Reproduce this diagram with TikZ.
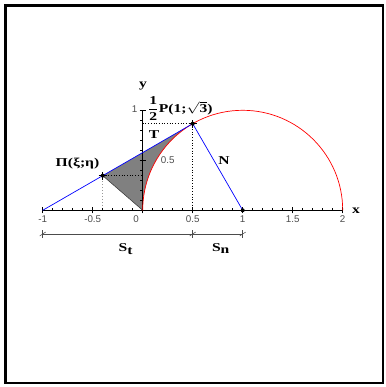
\documentclass[tikz,border=0pt]{standalone}
\usepackage{fontspec}
\setmainfont{Liberation Serif}
\newfontfamily\ticksans{Liberation Sans}
\newcommand{\widetxt}[1]{\scalebox{1.3}[1]{#1}}
\begin{document}
\begin{tikzpicture}[x=100pt,y=100pt,
  lbl/.style={font=\fontsize{12}{14}\selectfont\bfseries, inner sep=0pt},
  ticklbl/.style={font=\ticksans\fontsize{9.8}{11}\selectfont, text=black!70, inner sep=0pt},
  dotpt/.style={circle, fill=black, inner sep=0pt, minimum size=4pt},
  axisline/.style={black, line width=0.8pt},
  curveline/.style={red, line width=0.7pt},
  blueline/.style={blue, line width=0.7pt},
  dotline/.style={black, line width=0.7pt, dotted},
  greydot/.style={black!40, line width=0.9pt, dotted},
  dimline/.style={black!70, line width=0.8pt}]
\useasboundingbox (-1.427,-1.767) rectangle (2.423,2.103);
\draw[line width=2.7pt] (-1.372,-1.727) rectangle (2.403,2.05);

% named points
\coordinate (O) at (0,0);
\coordinate (A) at (-1,0);
\coordinate (X2) at (2,0);
\coordinate (Y1) at (0,1);
\coordinate (P) at (0.5,0.8660);
\coordinate (Q) at (1,0);
\coordinate (Pi) at (-0.4,0.34641);
\coordinate (PiY) at (0,0.34641);
\coordinate (PiX) at (-0.4,0);
\coordinate (PY) at (0,0.8660);
\coordinate (PX) at (0.5,0);
\coordinate (D1) at (-1,-0.237);
\coordinate (D2) at (0.5,-0.237);
\coordinate (D3) at (1,-0.237);

% shaded region
\fill[black!50] (Pi) -- (P) arc[start angle=120, end angle=180, radius=1] -- cycle;
\draw[black!80, line width=0.5pt] (O) -- (Pi);

% dotted helpers
\draw[dotline] (PY) -- (P);
\draw[dotline] (P) -- (PX);
\draw[dotline] (Pi) -- (PiY);
\draw[greydot] (Pi) -- (PiX);

% axes
\draw[axisline] (A) -- (X2);
\draw[axisline] (O) -- (Y1);
\foreach \i in {-10,...,20} \draw[black, line width=0.6pt] (\i/10,0) -- (\i/10,0.025);
\foreach \v in {-1,-0.5,0,0.5,1,1.5,2} \draw[black, line width=0.7pt] (\v,-0.03) -- (\v,0.035);
\foreach \i in {1,...,10} \draw[black, line width=0.6pt] (0,\i/10) -- (-0.025,\i/10);
\foreach \v in {0.5,1} \draw[black, line width=0.7pt] (-0.03,\v) -- (0.035,\v);

% curve and lines
\draw[curveline] (O) arc[start angle=180, end angle=0, radius=1];
\draw[blueline] (A) -- (P);
\draw[blueline] (P) -- (Q);

% points
\node[dotpt] (nP) at (P) {};
\node[dotpt] (nPi) at (Pi) {};
\node[dotpt] (nQ) at (Q) {};
\draw[black, line width=0.5pt] ([xshift=-4pt]P) -- ([xshift=4pt]P) ([yshift=-4pt]P) -- ([yshift=4pt]P);
\draw[black, line width=0.5pt] ([xshift=-4pt]Pi) -- ([xshift=4pt]Pi) ([yshift=-4pt]Pi) -- ([yshift=4pt]Pi);

% dimension line
\draw[dimline] (D1) -- (D3);
\foreach \c in {D1,D2,D3} {
  \draw[dimline, line width=0.6pt] ([yshift=-4pt]\c) -- ([yshift=4pt]\c);
  \draw[dimline, line width=0.5pt] ([xshift=-3pt,yshift=-2pt]\c) -- ([xshift=3pt,yshift=2pt]\c);
}

% tick labels
\node[ticklbl] (tm1) at (-1,-0.087) {-1};
\node[ticklbl] (tm05) at (-0.5,-0.087) {-0.5};
\node[ticklbl] (t0) at (-0.065,-0.087) {0};
\node[ticklbl] (t05) at (0.5,-0.087) {0.5};
\node[ticklbl] (t1) at (1,-0.087) {1};
\node[ticklbl] (t15) at (1.5,-0.087) {1.5};
\node[ticklbl] (t2) at (2,-0.087) {2};
\node[ticklbl] (ty1) at (-0.08,1.01) {1};
\node[ticklbl] (ty05) at (0.25,0.498) {0.5};

% labels
\node[lbl] (lx) at (2.133,0.0) {\widetxt{x}};
\node[lbl] (ly) at (0.003,1.24) {\widetxt{y}};
\node[lbl] (lT) at (0.113,0.753) {\widetxt{T}};
\node[lbl] (lN) at (0.813,0.493) {\widetxt{N}};
\node[lbl] (lPi) at (-0.652,0.468) {\widetxt{Π(ξ;η)}};
\node[lbl] (lP) at (0.375,1.02) {\widetxt{$\displaystyle\frac{\textbf{1}}{\textbf{2}}$P(1;$\sqrt{\textbf{3}}$)}};
\node[lbl] (lSt) at (-0.167,-0.385) {\widetxt{S$_{\textbf{t}}$}};
\node[lbl] (lSn) at (0.783,-0.385) {\widetxt{S$_{\textbf{n}}$}};
\end{tikzpicture}
\end{document}
